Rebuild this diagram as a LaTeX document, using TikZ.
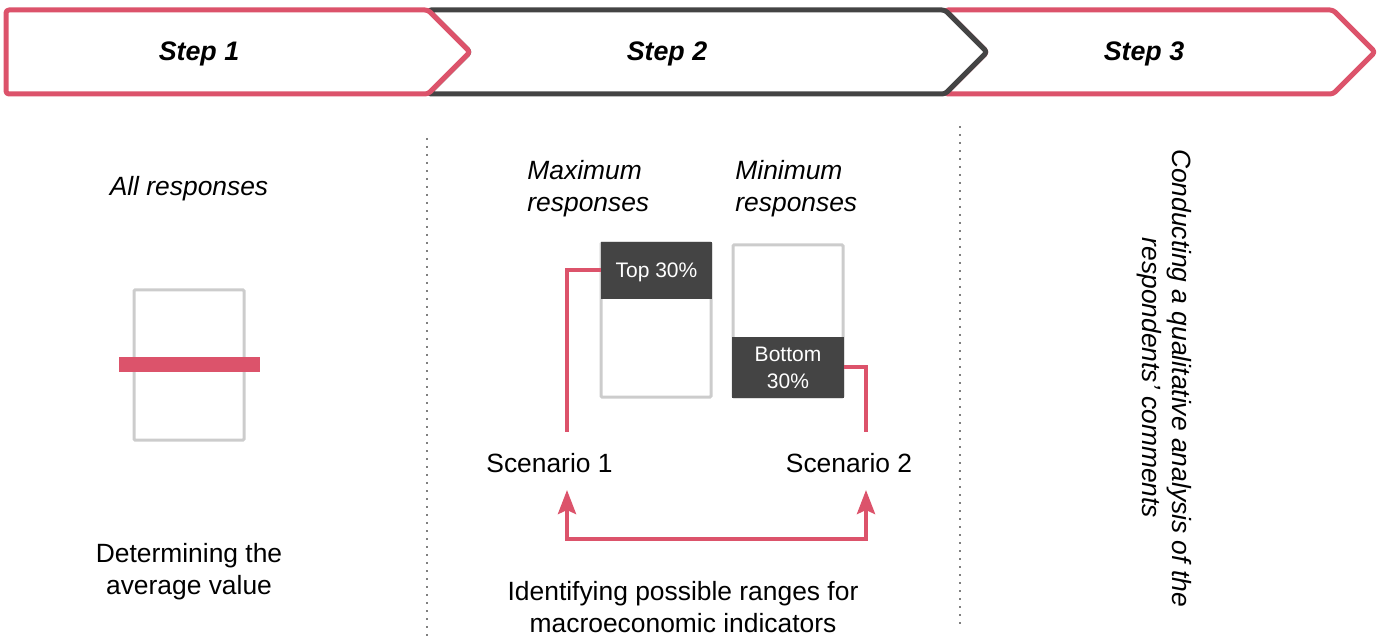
\documentclass[tikz,border=0pt]{standalone}
\usepackage{fontspec}
\setmainfont{Liberation Sans}
\usetikzlibrary{arrows.meta}

\definecolor{stepred}{RGB}{220,83,107}
\definecolor{stepgray}{RGB}{68,68,68}
\definecolor{boxgray}{RGB}{204,204,204}

\tikzset{
  chevron/.style={line width=2.5pt, line join=round, rounded corners=1.5pt, fill=white},
  steplabel/.style={font=\fontsize{13.4pt}{16pt}\selectfont\bfseries\itshape},
  txt/.style={font=\fontsize{13.2pt}{16pt}\selectfont, align=center, inner sep=0pt},
  share/.style={fill=stepgray, text=white, inner sep=0pt, align=center,
    font=\fontsize{10.5pt}{13.5pt}\selectfont},
  frame/.style={draw=boxgray, line width=1.5pt, rounded corners=0.5pt},
  link/.style={draw=stepred, line width=2pt},
  divider/.style={draw=gray, line width=1pt, dash pattern=on 1pt off 3pt}
}

\begin{document}
\begin{tikzpicture}[x=0.5pt,y=-0.5pt]
  \useasboundingbox (0,0) rectangle (1382,636);

  % step chevrons, last one first
  \draw[chevron, draw=stepred] (945,10) -- (1333,10) -- (1375,52) -- (1333,94) -- (945,94) -- (987,52) -- cycle;
  \draw[chevron, draw=stepgray] (428,10) -- (945,10) -- (987,52) -- (945,94) -- (428,94) -- (470,52) -- cycle;
  \draw[chevron, draw=stepred] (6,10) -- (428,10) -- (470,52) -- (428,94) -- (6,94) -- cycle;
  \node[steplabel] (step1) at (199,54) {Step 1};
  \node[steplabel] (step2) at (667,54) {Step 2};
  \node[steplabel] (step3) at (1144,54) {Step 3};

  % column dividers
  \draw[divider] (427,138) -- (427,636);
  \draw[divider] (960,126) -- (960,625);

  % step 1
  \node[txt, font=\fontsize{13.2pt}{16pt}\selectfont\itshape] (allresp) at (189,189) {All responses};
  \draw[frame] (134,290) rectangle (244,440);
  \fill[stepred] (119,357) rectangle (260,372);
  \node[txt] (average) at (189,572) {Determining the\\average value};

  % step 2
  \node[txt, font=\fontsize{13.2pt}{16pt}\selectfont\itshape, align=left, anchor=west] (maxresp) at (527,189) {Maximum\\responses};
  \node[txt, font=\fontsize{13.2pt}{16pt}\selectfont\itshape, align=left, anchor=west] (minresp) at (735,189) {Minimum\\responses};
  \draw[frame] (601,243) rectangle (711,397);
  \draw[frame] (733,245) rectangle (843,397);
  \node[share, minimum width=55.5pt, minimum height=28.5pt, text depth=0.5pt] (top30) at (656.5,270.5) {Top 30\%};
  \node[share, minimum width=56pt, minimum height=30.5pt] (bottom30) at (788,367.5) {Bottom\\30\%};

  \node[txt] (scen1) at (549.5,463) {Scenario 1};
  \node[txt] (scen2) at (849,463) {Scenario 2};
  \coordinate (s1in) at (567,432);
  \coordinate (s2in) at (866,432);
  \coordinate (s1out) at (567,490);
  \coordinate (s2out) at (866,490);
  \draw[link] (top30.west) -| (s1in);
  \draw[link] (bottom30.east) -| (s2in);
  \draw[link, {Stealth[length=12pt,width=9pt,inset=2pt]}-{Stealth[length=12pt,width=9pt,inset=2pt]}]
    (s1out) -- ++(0,49) -| (s2out);

  \node[txt] (ranges) at (683,607) {Identifying possible ranges for\\macroeconomic indicators};

  % step 3
  \node[txt, font=\fontsize{13.2pt}{15pt}\selectfont\itshape, rotate=-90] (comments) at (1164,378)
    {Conducting a qualitative analysis of the\\respondents’ comments};
\end{tikzpicture}
\end{document}
